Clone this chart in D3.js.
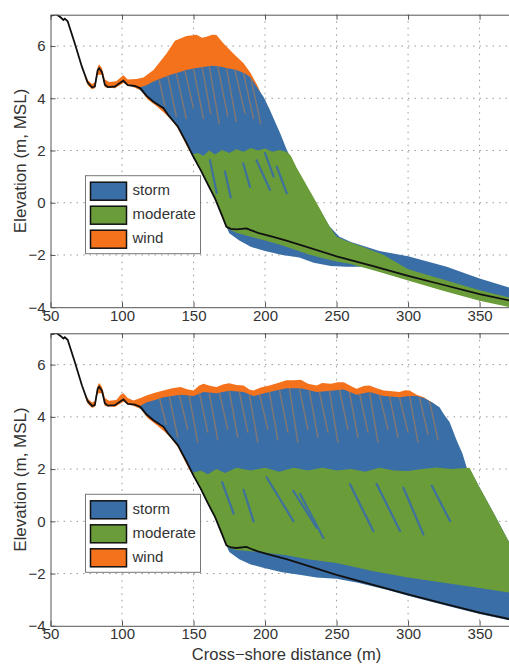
<!DOCTYPE html>
<html>
<head>
<meta charset="utf-8">
<script src="https://cdn.jsdelivr.net/npm/d3@7"></script>
<style>
    html, body { margin: 0; padding: 0; background: #fff; overflow: hidden; }
    svg { display: block; font-family: "Liberation Sans", Arial, Helvetica, sans-serif; }
    .tick text { fill: #333; }
</style>
</head>
<body>
<svg id="chart" width="509" height="666"></svg>
<script>
// ============================================
// Beach profiles - storm / moderate / wind
// ============================================

const xTicks = [50, 100, 150, 200, 250, 300, 350];
const yTicks = [-4, -2, 0, 2, 4, 6];
const seriesNames = ['storm', 'moderate', 'wind'];
const seriesColors = ['#3a6ea6', '#6a9c3a', '#f4721c'];

// initial (pre-storm) profile, [x, z]
const profile = [[50,7.15],[54,7.22],[57,7.1],[59,7.0],[60,7.05],[62,6.95],[67,6.1],[72,5.2],[76,4.6],[79,4.42],[81,4.45],[83,5.08],[84,5.15],[86,5.0],[88,4.52],[90,4.43],[95,4.45],[99,4.6],[101,4.67],[104,4.5],[109,4.47],[113,4.38],[117,4.1],[122,3.87],[129,3.62],[132,3.38],[139,2.92],[145,2.3],[150,1.75],[155,1.25],[160,0.7],[165,0.17],[170,-0.5],[173,-0.92],[176,-1.0],[180,-1.02],[187,-0.98],[190,-1.05],[195,-1.15],[205,-1.3],[215,-1.45],[224,-1.6],[250,-2.05],[275,-2.42],[300,-2.8],[325,-3.15],[350,-3.5],[380,-3.85]];

// upper panel envelopes
const windTop1 = [[74,4.9],[76,4.7],[79,4.55],[81,4.6],[83,5.2],[84,5.3],[86,5.15],[88,4.72],[91,4.62],[96,4.65],[99,4.8],[101,4.88],[104,4.72],[110,4.74],[115,4.8],[122,5.08],[131,5.7],[137,6.2],[145,6.38],[152,6.43],[156,6.32],[159,6.36],[163,6.43],[166,6.42],[171,6.1],[178,5.7],[185,5.34],[190,4.96],[195,4.45],[200,3.8]];
const windBottom1 = [[74,4.8],[76,4.5],[79,4.35],[81,4.38],[83,4.9],[86,4.9],[88,4.42],[95,4.38],[101,4.58],[109,4.4],[113,4.3],[118,3.95],[124,3.7],[130,3.42],[134,3.2],[139,2.85],[145,2.2],[150,1.7],[200,1.7]];
const stormTop1 = [[112,4.4],[117,4.5],[122,4.64],[128,4.78],[134,4.9],[140,5.0],[145,5.08],[151,5.15],[157,5.2],[163,5.25],[168,5.22],[174,5.15],[180,5.08],[186,4.95],[190,4.8],[194,4.45],[199,4.05],[203,3.6],[207,3.1],[211,2.6],[215,2.05],[220,1.5],[227,0.8],[236,-0.05],[245,-0.9],[252,-1.3],[260,-1.5],[280,-1.85],[300,-2.05],[327,-2.45],[350,-2.9],[380,-3.4]];
const stormBottom1 = [[112,4.35],[117,4.08],[122,3.85],[129,3.6],[132,3.36],[139,2.9],[145,2.28],[150,1.72],[155,1.22],[160,0.67],[165,0.14],[170,-0.55],[175,-1.17],[182,-1.45],[190,-1.69],[200,-1.85],[212,-2.0],[224,-2.1],[234,-2.3],[246,-2.42],[257,-2.45],[270,-2.45],[285,-2.62],[300,-2.85],[325,-3.2],[350,-3.55],[380,-3.9]];
const moderateTop1 = [[149,1.85],[153,1.9],[157,1.8],[161,2.0],[165,1.85],[170,2.02],[175,1.9],[180,2.05],[185,1.95],[190,2.1],[195,2.0],[200,2.08],[205,1.95],[210,2.02],[215,1.95],[218,1.8],[222,1.35],[227,0.87],[236,0.0],[245,-0.9],[250,-1.3],[256,-1.45],[270,-1.72],[283,-2.0],[300,-2.55],[325,-2.95],[350,-3.35],[380,-3.75]];
const moderateBottom1 = [[150,1.72],[155,1.22],[160,0.67],[165,0.14],[170,-0.55],[174,-1.0],[180,-1.15],[190,-1.3],[200,-1.45],[210,-1.6],[220,-1.78],[230,-1.97],[240,-2.12],[250,-2.25],[260,-2.35],[280,-2.65],[300,-2.98],[325,-3.38],[350,-3.75],[380,-4.1]];

// lower panel envelopes
const windTop2 = [[74,4.9],[76,4.7],[79,4.55],[81,4.6],[83,5.2],[84,5.3],[86,5.15],[88,4.72],[91,4.62],[96,4.65],[99,4.85],[101,4.9],[104,4.72],[108,4.63],[113,4.72],[117,4.82],[123,4.92],[129,5.01],[135,5.1],[141,5.14],[146,5.05],[150,5.01],[154,5.2],[157,5.27],[162,5.18],[166,5.14],[171,5.25],[175,5.29],[180,5.22],[185,5.2],[189,5.05],[192,5.01],[197,5.12],[203,5.2],[209,5.3],[215,5.4],[220,5.4],[225,5.42],[230,5.27],[236,5.2],[240,5.3],[246,5.27],[251,5.33],[255,5.33],[260,5.18],[264,5.08],[269,5.18],[273,5.2],[278,5.1],[283,5.01],[289,4.98],[294,4.95],[298,5.02],[301,5.01],[306,4.85],[311,4.75],[318,4.5],[325,4.1]];
const windBottom2 = [[74,4.8],[76,4.5],[79,4.35],[81,4.38],[83,4.9],[86,4.9],[88,4.42],[95,4.38],[101,4.58],[109,4.4],[113,4.3],[118,3.95],[124,3.7],[130,3.42],[134,3.2],[139,2.85],[145,2.2],[150,1.7],[325,1.7]];
const stormTop2 = [[112,4.4],[117,4.55],[123,4.65],[129,4.75],[135,4.8],[141,4.85],[150,4.8],[157,4.95],[166,4.9],[175,5.0],[185,4.95],[192,4.8],[203,4.95],[215,5.1],[225,5.1],[236,4.95],[246,5.0],[255,5.05],[264,4.85],[273,4.95],[283,4.8],[294,4.75],[301,4.8],[306,4.8],[311,4.72],[317,4.55],[322,4.37],[325,4.1],[329,3.8],[334,3.1],[338,2.6],[341,2.06],[346,1.7],[350,1.3],[360,0.3],[369,-0.63],[380,-1.7]];
const stormBottom2 = [[112,4.35],[117,4.08],[122,3.85],[129,3.6],[132,3.36],[139,2.9],[145,2.28],[150,1.72],[155,1.22],[160,0.67],[165,0.14],[170,-0.55],[175,-1.17],[182,-1.45],[190,-1.65],[200,-1.8],[212,-1.95],[224,-2.05],[236,-2.15],[250,-2.2],[265,-2.35],[285,-2.62],[300,-2.85],[325,-3.2],[350,-3.55],[380,-3.9]];
const moderateTop2 = [[149,1.85],[155,1.95],[160,1.8],[166,2.0],[172,1.85],[180,2.05],[190,1.95],[200,2.05],[210,1.9],[220,2.05],[230,1.95],[240,2.05],[250,1.95],[260,2.0],[270,1.9],[280,2.05],[290,1.95],[300,1.93],[310,2.0],[320,2.06],[330,2.0],[343,2.05],[350,1.3],[360,0.3],[369,-0.63],[380,-1.75]];
const moderateBottom2 = [[150,1.72],[155,1.22],[160,0.67],[165,0.14],[170,-0.55],[174,-1.0],[180,-1.1],[190,-1.15],[200,-1.2],[215,-1.3],[230,-1.45],[250,-1.6],[275,-1.9],[300,-2.15],[325,-2.35],[350,-2.55],[380,-2.8]];

// thin streaks [x1, z1, x2, z2]
const windStreaks1 = [[126,4.7,130,3.7],[132,4.85,138,3.3],[138,4.95,145,3.2],[144,5.05,150,3.6],[150,5.12,157,3.2],[156,5.2,162,3.4],[161,5.22,168,3.0],[167,5.2,174,3.3],[173,5.15,180,3.1],[179,5.08,186,3.4],[185,4.95,192,3.2],[190,4.8,197,3.0]];
const stormStreaks1 = [[161.5,1.63,166.2,0.37],[184.7,1.51,189.5,0.6],[194,1.63,203.5,0.49],[208.2,1.38,215.2,0.36],[172,1.2,176,0.2],[200,1.9,206,1.0]];
const windStreaks2 = [[126,4.75,131,3.7],[133,4.8,139,3.2],[140,4.85,146,3.5],[147,4.8,153,3.0],[154,4.95,160,3.4],[161,4.9,167,3.1],[168,4.95,174,3.5],[175,5.0,181,3.2],[182,4.95,188,3.4],[189,4.85,195,3.0],[196,4.9,202,3.5],[203,4.95,209,3.1],[210,5.05,216,3.4],[217,5.1,223,3.0],[224,5.1,230,3.5],[231,5.0,237,3.2],[238,4.95,244,3.4],[245,5.0,251,3.0],[252,5.05,258,3.5],[259,4.95,265,3.2],[266,4.9,272,3.4],[273,4.95,279,3.0],[280,4.85,286,3.5],[287,4.8,293,3.2],[294,4.75,300,3.4],[301,4.8,307,3.0],[308,4.75,314,3.3],[315,4.6,321,3.1]];
const stormStreaks2 = [[201.2,1.68,219.8,0.01],[219.7,1.17,236.2,-0.25],[224.5,1.05,240.8,-0.64],[259.4,1.42,275.7,-0.37],[278,1.43,294.4,-0.37],[296.7,1.29,310.7,-0.5],[316.6,1.36,329.4,0.01],[170,1.5,178,0.3],[185,1.2,192,0.0]];

const panels = [
    { top: 14.7, wind: [windTop1, windBottom1], storm: [stormTop1, stormBottom1], moderate: [moderateTop1, moderateBottom1], windStreaks: windStreaks1, stormStreaks: stormStreaks1, xLabel: false },
    { top: 333.3, wind: [windTop2, windBottom2], storm: [stormTop2, stormBottom2], moderate: [moderateTop2, moderateBottom2], windStreaks: windStreaks2, stormStreaks: stormStreaks2, xLabel: true }
];

const left = 50.5;
const plotW = 472;
const plotH = 292.5;

const svg = d3.select('#chart');

const x = d3.scaleLinear().domain([50, 380]).range([0, plotW]);
const y = d3.scaleLinear().domain([-4, 7.2]).range([plotH, 0]);

const line = d3.line().x(d => x(d[0])).y(d => y(d[1]));

function band(topPts, bottomPts) {
    return line(topPts.concat(bottomPts.slice().reverse())) + 'Z';
}

panels.forEach((p, i) => {
    const g = svg.append('g').attr('transform', `translate(${left},${p.top})`);

    g.append('clipPath').attr('id', `clip${i}`)
        .append('rect').attr('width', plotW).attr('height', plotH);

    // Grid
    const grid = g.append('g')
        .attr('stroke', '#999')
        .attr('stroke-width', 1)
        .attr('stroke-dasharray', '1.5,5');
    grid.selectAll('.gx').data(xTicks.slice(1)).join('line')
        .attr('x1', d => x(d)).attr('x2', d => x(d))
        .attr('y1', 0).attr('y2', plotH);
    grid.selectAll('.gy').data(yTicks.slice(1)).join('line')
        .attr('x1', 0).attr('x2', plotW)
        .attr('y1', d => y(d)).attr('y2', d => y(d));

    // Data
    const data = g.append('g').attr('clip-path', `url(#clip${i})`);

    data.append('path').attr('d', band(p.wind[0], p.wind[1])).attr('fill', seriesColors[2]);
    data.append('path').attr('d', band(p.storm[0], p.storm[1])).attr('fill', seriesColors[0]);

    data.append('g').selectAll('line').data(p.windStreaks).join('line')
        .attr('x1', d => x(d[0])).attr('y1', d => y(d[1]))
        .attr('x2', d => x(d[2])).attr('y2', d => y(d[3]))
        .attr('stroke', '#9c7b62')
        .attr('stroke-width', 1.4)
        .attr('stroke-opacity', 0.75);

    data.append('path').attr('d', band(p.moderate[0], p.moderate[1])).attr('fill', seriesColors[1]);

    data.append('g').selectAll('line').data(p.stormStreaks).join('line')
        .attr('x1', d => x(d[0])).attr('y1', d => y(d[1]))
        .attr('x2', d => x(d[2])).attr('y2', d => y(d[3]))
        .attr('stroke', seriesColors[0])
        .attr('stroke-width', 2.2)
        .attr('stroke-linecap', 'round')
        .attr('stroke-opacity', 0.9);

    data.append('path')
        .attr('d', line(profile))
        .attr('fill', 'none')
        .attr('stroke', '#111')
        .attr('stroke-width', 1.8);

    // Axes
    const xAxis = g.append('g')
        .attr('transform', `translate(0,${plotH})`)
        .call(d3.axisBottom(x).tickValues(xTicks).tickSizeInner(-5).tickSizeOuter(0).tickPadding(3));
    const xTop = g.append('g')
        .call(d3.axisTop(x).tickValues(xTicks).tickSizeInner(-5).tickSizeOuter(0).tickFormat(''));
    const yAxis = g.append('g')
        .call(d3.axisLeft(y).tickValues(yTicks).tickSizeInner(-5).tickSizeOuter(0).tickPadding(5)
            .tickFormat(d => d < 0 ? '\u2212' + Math.abs(d) : d));

    [xAxis, xTop, yAxis].forEach(a => {
        a.selectAll('.domain').attr('stroke', '#555');
        a.selectAll('.tick line').attr('stroke', '#555');
        a.selectAll('.tick text').style('font-size', '15px').attr('fill', '#333');
    });

    // Y label
    g.append('text')
        .attr('transform', `translate(${22 - left},${plotH / 2}) rotate(-90)`)
        .attr('text-anchor', 'middle')
        .attr('dominant-baseline', 'middle')
        .style('font-size', '17px')
        .attr('fill', '#333')
        .text('Elevation (m, MSL)');

    if (p.xLabel) {
        g.append('text')
            .attr('x', plotW / 2)
            .attr('y', plotH + 34.5)
            .attr('text-anchor', 'middle')
            .style('font-size', '16.5px')
            .attr('fill', '#333')
            .text('Cross\u2212shore distance (m)');
    }

    // Legend
    const lg = g.append('g').attr('transform', `translate(${85.5 - left},161)`);
    lg.append('rect')
        .attr('width', 115).attr('height', 78)
        .attr('fill', '#fff').attr('stroke', '#777').attr('stroke-width', 1);
    seriesNames.forEach((name, k) => {
        lg.append('rect')
            .attr('x', 5).attr('y', 6.5 + k * 24)
            .attr('width', 36).attr('height', 18)
            .attr('fill', seriesColors[k])
            .attr('stroke', '#111').attr('stroke-width', 1.5);
        lg.append('text')
            .attr('x', 47).attr('y', 15.5 + k * 24)
            .attr('dominant-baseline', 'middle')
            .style('font-size', '15px')
            .attr('fill', '#333')
            .text(name);
    });
});
</script>
</body>
</html>
